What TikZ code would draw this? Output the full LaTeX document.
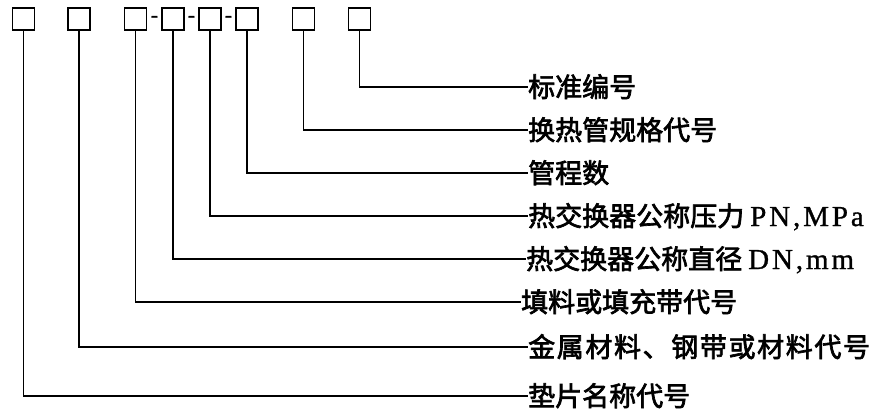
\documentclass[tikz,border=0pt]{standalone}
\usepackage{fontspec}
\setmainfont{Liberation Serif}
\newfontfamily\cjk[AutoFakeBold=2.5]{Noto Sans CJK SC}
\newfontfamily\lat[LetterSpace=10, FakeBold=1]{Liberation Serif}
\usepackage{tikz}
\usetikzlibrary{positioning}

\begin{document}
\begin{tikzpicture}[x=1pt, y=-1pt,
		codebox/.style={draw, line width=1.7pt, minimum size=22pt, inner sep=0pt, anchor=center},
		dashmark/.style={inner sep=0pt, font=\fontsize{22}{22}\selectfont\lat},
		itemlabel/.style={anchor=west, inner sep=0pt, text height=21pt, text depth=1pt,
			font=\fontsize{27}{27}\selectfont\cjk\bfseries},
		lead/.style={line width=1.3pt}
	]
	\useasboundingbox (0,0) rectangle (875,409);

	% code boxes
	\node[codebox] (b1) at (23.5, 19) {};
	\node[codebox] (b2) at (79, 19) {};
	\node[codebox] (b3) at (135.5, 19) {};
	\node[codebox] (b4) at (173, 19) {};
	\node[codebox] (b5) at (210, 19) {};
	\node[codebox] (b6) at (247, 19) {};
	\node[codebox] (b7) at (303.5, 19) {};
	\node[codebox] (b8) at (359.5, 19) {};

	\node[dashmark] (d1) at (154.5, 19) {-};
	\node[dashmark] (d2) at (191.5, 19) {-};
	\node[dashmark] (d3) at (228.5, 19) {-};

	% labels
	\node[itemlabel] (l8) at (528, 87) {标准编号};
	\node[itemlabel] (l7) at (528, 130) {换热管规格代号};
	\node[itemlabel] (l6) at (528, 173) {管程数};
	\node[itemlabel] (l5) at (528, 216) {热交换器公称压力\hspace{6pt}{\fontsize{29}{29}\lat\mdseries PN,MPa}};
	\node[itemlabel] (l4) at (526, 259) {热交换器公称直径\hspace{6pt}{\fontsize{29}{29}\lat\mdseries DN,mm}};
	\node[itemlabel] (l3) at (521, 302) {填料或填充带代号};
	\node[itemlabel] (l2) at (528, 347) {\addfontfeature{LetterSpace=6}金属材料、钢带或材料代号};
	\node[itemlabel] (l1) at (528, 396) {垫片名称代号};

	\draw[lead] (b1.south) |- (l1.west);
	\draw[lead] (b2.south) |- (l2.west);
	\draw[lead] (b3.south) |- (l3.west);
	\draw[lead] (b4.south) |- (l4.west);
	\draw[lead] (b5.south) |- (l5.west);
	\draw[lead] (b6.south) |- (l6.west);
	\draw[lead] (b7.south) |- (l7.west);
	\draw[lead] (b8.south) |- (l8.west);
\end{tikzpicture}
\end{document}
